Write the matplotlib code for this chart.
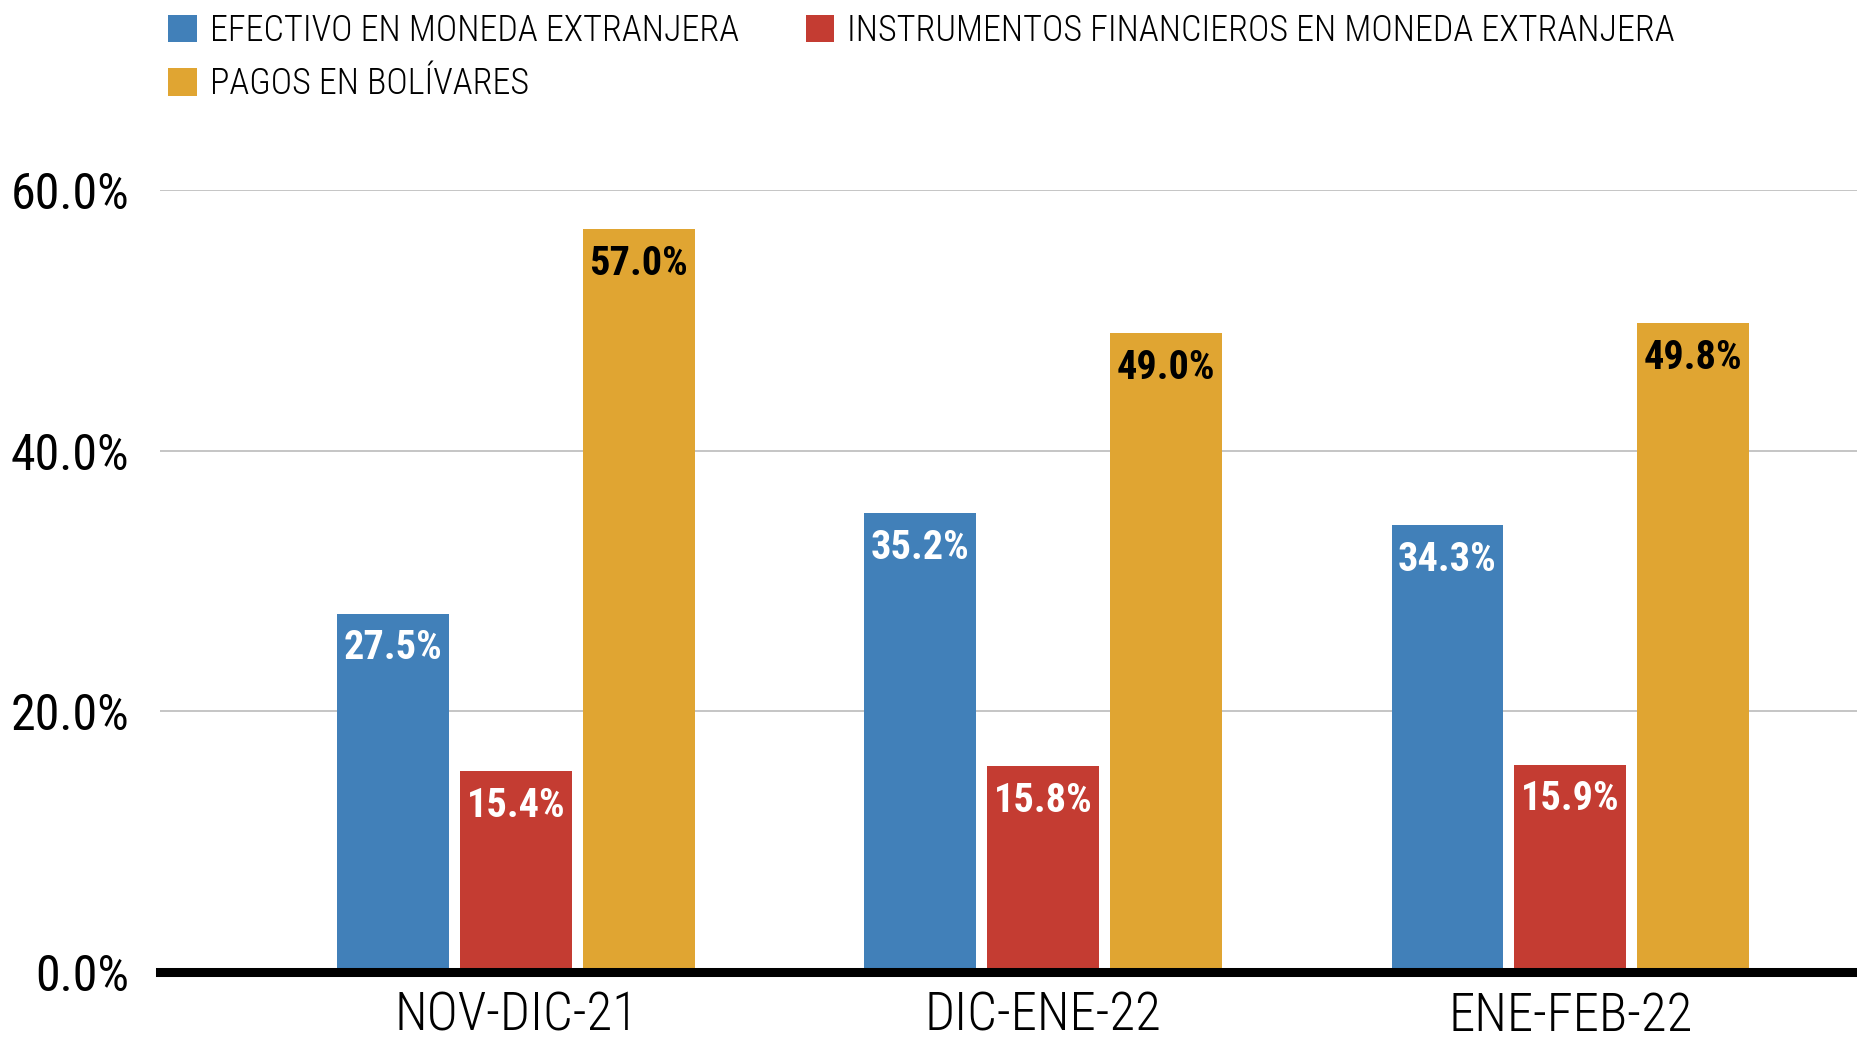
import numpy as np
import matplotlib
matplotlib.use("Agg")
import matplotlib.pyplot as plt

# -------------------------------
# Datos
# -------------------------------
periodos = ["NOV-DIC-21", "DIC-ENE-22", "ENE-FEB-22"]
series = [
    "EFECTIVO EN MONEDA EXTRANJERA",
    "INSTRUMENTOS FINANCIEROS EN MONEDA EXTRANJERA",
    "PAGOS EN BOLÍVARES",
]
efectivo = [27.5, 35.2, 34.3]
instrumentos = [15.4, 15.8, 15.9]
pagos = [57.0, 49.0, 49.8]

colores = ["#4180B9", "#C43C32", "#E0A532"]
color_texto = ["white", "white", "black"]

plt.rcParams['font.family'] = ['Roboto Condensed', 'Barlow Condensed', 'DejaVu Sans']

fig = plt.figure(figsize=(18.58, 10.51), dpi=100)
ax = fig.add_axes([0.0861, 0.0752, 0.9139, 0.7440])

x = np.arange(len(periodos))
ancho = 0.212
paso = 0.233

barras = []
for k, valores in enumerate([efectivo, instrumentos, pagos]):
    b = ax.bar(x + (k - 1) * paso, valores, ancho, color=colores[k],
               label=series[k], zorder=2)
    barras.append(b)
    for xi, v in zip(x + (k - 1) * paso, valores):
        ax.annotate(f"{v:.1f}%", (xi, v), xytext=(0, -25),
                    textcoords="offset points", ha="center", va="center",
                    fontsize=29, fontweight="bold", color=color_texto[k],
                    zorder=3)

ax.set_xlim(-0.6755, 2.546)
ax.set_ylim(0, 60)
ax.set_yticks([0, 20, 40, 60])
ax.set_yticklabels([f"{t:.1f}%" for t in [0, 20, 40, 60]], fontsize=36)
ax.set_xticks(x)
ax.set_xticklabels(periodos, fontsize=38, fontweight="light")
ax.tick_params(axis="y", length=0, pad=22)
ax.tick_params(axis="x", length=0, pad=13)

ax.grid(axis="y", color="#c0c0c0", linewidth=1.3, zorder=0)
ax.set_axisbelow(True)
for s in ["top", "right", "left"]:
    ax.spines[s].set_visible(False)
ax.spines["bottom"].set_linewidth(6.5)
ax.spines["bottom"].set_color("black")
ax.spines["bottom"].set_zorder(4)

handles = [barras[0], barras[2], barras[1]]
labels = [series[0], series[2], series[1]]
fig.legend(handles, labels, loc="upper left", bbox_to_anchor=(0.0885, 0.991),
           ncol=2, frameon=False, prop={"size": 26, "weight": "light"},
           handlelength=0.79, handleheight=0.79, handletextpad=0.36,
           columnspacing=1.85, labelspacing=0.48, borderpad=0.1,
           borderaxespad=0)

fig.savefig("out.png", dpi=100)
